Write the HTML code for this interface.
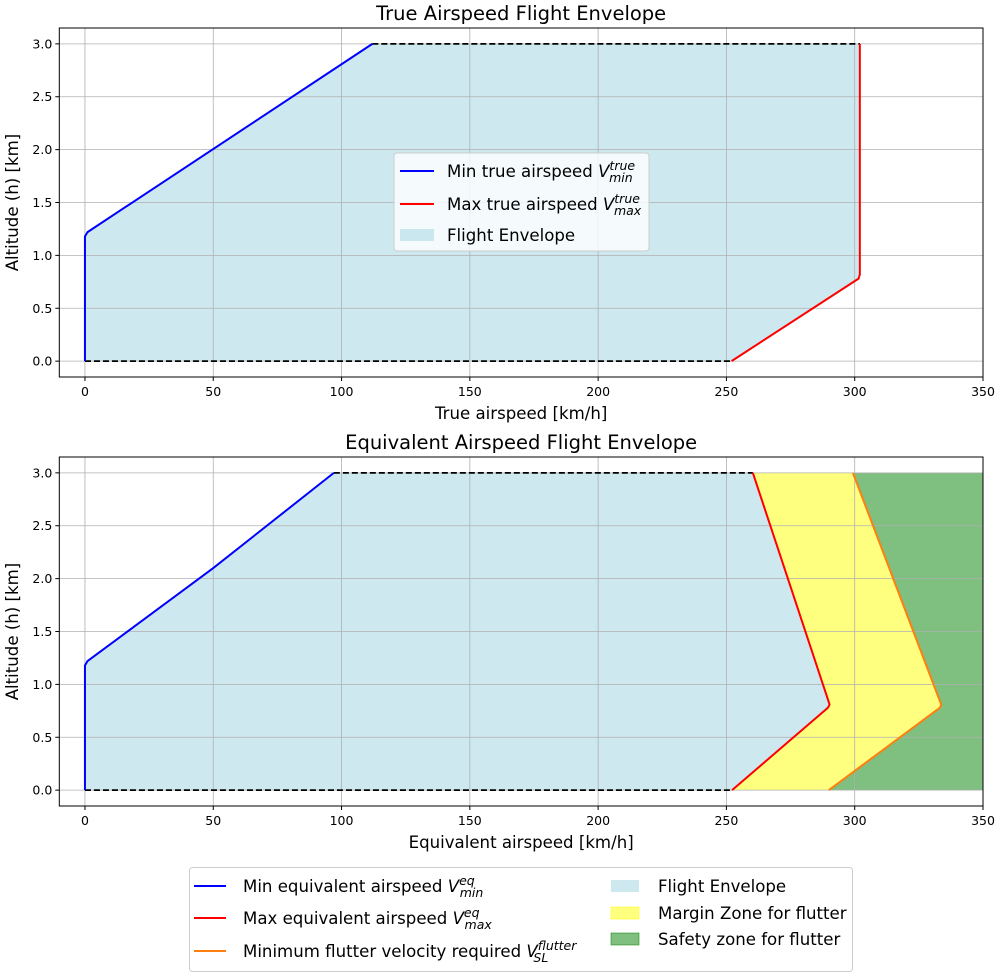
<!DOCTYPE html>
<html><head><meta charset="utf-8"><style>
body{margin:0;background:#fff;overflow:hidden;width:1000px;height:976px;position:relative}
svg text{font-family:"DejaVu Sans","Liberation Sans",sans-serif;fill:#000}
</style></head><body>
<svg id="chart" width="1000" height="976" viewBox="0 0 1000 976" xmlns="http://www.w3.org/2000/svg" style="position:absolute;left:0;top:0"></svg>
<script>
// data
const xTicks=[0,50,100,150,200,250,300,350];
const yTicks=[0,0.5,1.0,1.5,2.0,2.5,3.0];
const trueMinV=[0,0,1,112];
const trueMinH=[0,1.18,1.22,3.0];
const trueMaxV=[252,301.5,302,302];
const trueMaxH=[0,0.78,0.82,3.0];
const eqMinV=[0,0,1,50,97];
const eqMinH=[0,1.18,1.22,2.1,3.0];
const eqMaxV=[252.2,289.6,290.2,260.3];
const eqMaxH=[0,0.78,0.81,3.0];
const flutV=[289.9,333.2,333.7,299.3];
const flutH=[0,0.78,0.81,3.0];

const svg=document.getElementById('chart');
const NS='http://www.w3.org/2000/svg';
function el(tag,attrs,parent,name,inter){
  const e=document.createElementNS(NS,tag);
  for(const k in attrs)e.setAttribute(k,attrs[k]);
  
  
  (parent||svg).appendChild(e);return e;
}
function makeAxes(top,title,xlabel,prefix){
  const L=59.3,R=983,B=top+349;
  const sx=v=>L+(v+10)*(R-L)/360;
  const sy=h=>B-(h+0.15)*349/3.3;
  const g=el('g',{},svg,prefix+'-axes',false);
  return {g,sx,sy,L,R,top,B,title,xlabel,prefix};
}
function pts(a,vs,hs){return vs.map((v,i)=>a.sx(v).toFixed(2)+','+a.sy(hs[i]).toFixed(2));}
function grid(a){
  xTicks.forEach(t=>{el('line',{x1:a.sx(t),x2:a.sx(t),y1:a.top,y2:a.B,stroke:'#b0b0b0','stroke-width':0.8},a.g,'x-gridline',false);});
  yTicks.forEach(t=>{el('line',{x1:a.L,x2:a.R,y1:a.sy(t),y2:a.sy(t),stroke:'#b0b0b0','stroke-width':0.8},a.g,'y-gridline',false);});
}
function frame(a,ylabel){
  el('rect',{x:a.L,y:a.top,width:a.R-a.L,height:a.B-a.top,fill:'none',stroke:'#000','stroke-width':1},a.g,'plot-frame',false);
  xTicks.forEach(t=>{
    el('line',{x1:a.sx(t),x2:a.sx(t),y1:a.B,y2:a.B+4,stroke:'#000'},a.g,'x-tick',false);
    const tx=el('text',{x:a.sx(t),y:a.B+19,'font-size':12.5,'text-anchor':'middle'},a.g,'x-tick-label',false);tx.textContent=t;
  });
  yTicks.forEach(t=>{
    el('line',{x1:a.L-4,x2:a.L,y1:a.sy(t),y2:a.sy(t),stroke:'#000'},a.g,'y-tick',false);
    const tx=el('text',{x:a.L-7,y:a.sy(t)+4.5,'font-size':12.5,'text-anchor':'end'},a.g,'y-tick-label',false);tx.textContent=t.toFixed(1);
  });
  const tt=el('text',{x:(a.L+a.R)/2,y:a.top-8,'font-size':19.5,'text-anchor':'middle'},a.g,'chart-title',false);tt.textContent=a.title;
  const xl=el('text',{x:(a.L+a.R)/2,y:a.B+42,'font-size':16.6,'text-anchor':'middle'},a.g,'x-axis-title',false);xl.textContent=a.xlabel;
  const cy=(a.top+a.B)/2;
  const yl=el('text',{x:18,y:cy,'font-size':16.6,'text-anchor':'middle',transform:'rotate(-90 18 '+cy+')'},a.g,'y-axis-title',false);yl.textContent=ylabel;
}
function line(a,vs,hs,color,name){el('polyline',{points:pts(a,vs,hs).join(' '),fill:'none',stroke:color,'stroke-width':2,'stroke-linejoin':'round'},a.g,name,false);}
function dash(a,v1,v2,h){el('line',{x1:a.sx(v1),x2:a.sx(v2),y1:a.sy(h),y2:a.sy(h),stroke:'#000','stroke-width':1.7,'stroke-dasharray':'6,3'},a.g,'dashed-boundary',false);}

const A=makeAxes(28,'True Airspeed Flight Envelope','True airspeed [km/h]','true');
{
  const p=pts(A,trueMinV,trueMinH).concat(pts(A,trueMaxV.slice().reverse(),trueMaxH.slice().reverse()));
  el('polygon',{points:p.join(' '),fill:'#add8e6','fill-opacity':0.6},A.g,'flight-envelope-area',false);
  grid(A);
  dash(A,trueMinV[trueMinV.length-1],trueMaxV[trueMaxV.length-1],3.0);
  dash(A,0,trueMaxV[0],0);
  line(A,trueMinV,trueMinH,'#0000ff','min-true-airspeed-line');
  line(A,trueMaxV,trueMaxH,'#ff0000','max-true-airspeed-line');
  frame(A,'Altitude (h) [km]');
}
const Bx=makeAxes(457,'Equivalent Airspeed Flight Envelope','Equivalent airspeed [km/h]','eq');
{
  const p=pts(Bx,eqMinV,eqMinH).concat(pts(Bx,eqMaxV.slice().reverse(),eqMaxH.slice().reverse()));
  el('polygon',{points:p.join(' '),fill:'#add8e6','fill-opacity':0.6},Bx.g,'flight-envelope-area',false);
  const y=pts(Bx,eqMaxV,eqMaxH).concat(pts(Bx,flutV.slice().reverse(),flutH.slice().reverse()));
  el('polygon',{points:y.join(' '),fill:'#ffff00','fill-opacity':0.5},Bx.g,'margin-zone-area',false);
  const gr=pts(Bx,flutV,flutH).concat([Bx.sx(350)+','+Bx.sy(3),Bx.sx(350)+','+Bx.sy(0)]);
  el('polygon',{points:gr.join(' '),fill:'#008000','fill-opacity':0.5},Bx.g,'safety-zone-area',false);
  grid(Bx);
  dash(Bx,eqMinV[eqMinV.length-1],eqMaxV[eqMaxV.length-1],3.0);
  dash(Bx,0,eqMaxV[0],0);
  line(Bx,eqMinV,eqMinH,'#0000ff','min-eq-airspeed-line');
  line(Bx,eqMaxV,eqMaxH,'#ff0000','max-eq-airspeed-line');
  line(Bx,flutV,flutH,'#ff7f0e','flutter-velocity-line');
  frame(Bx,'Altitude (h) [km]');
}
</script>
<svg style="position:absolute;left:0;top:0" width="1000" height="976">
<g font-family="DejaVu Sans, sans-serif" font-size="16.6">
<rect x="394" y="153" width="255" height="98" rx="3" fill="#fff" fill-opacity="0.8" stroke="#ccc"/>
<line x1="400" x2="434" y1="171" y2="171" stroke="#00f" stroke-width="2"/>
<text x="447" y="177">Min true airspeed <tspan font-style="italic">V</tspan><tspan font-style="italic" font-size="12.5" dy="-7">true</tspan><tspan font-style="italic" font-size="12.5" dx="-26" dy="12">min</tspan></text>
<line x1="400" x2="434" y1="204" y2="204" stroke="#f00" stroke-width="2"/>
<text x="447" y="210">Max true airspeed <tspan font-style="italic">V</tspan><tspan font-style="italic" font-size="12.5" dy="-7">true</tspan><tspan font-style="italic" font-size="12.5" dx="-26" dy="12">max</tspan></text>
<rect x="400" y="229" width="34" height="12" fill="#add8e6" fill-opacity="0.6"/>
<text x="447" y="241">Flight Envelope</text>
</g>
<g font-family="DejaVu Sans, sans-serif" font-size="16.6">
<rect x="189.5" y="867.5" width="663" height="104" rx="3" fill="#fff" stroke="#ccc"/>
<line x1="194" x2="226" y1="886" y2="886" stroke="#00f" stroke-width="2"/>
<text x="243" y="892">Min equivalent airspeed <tspan font-style="italic">V</tspan><tspan font-style="italic" font-size="12.5" dy="-7">eq</tspan><tspan font-style="italic" font-size="12.5" dx="-15" dy="12">min</tspan></text>
<line x1="194" x2="226" y1="918" y2="918" stroke="#f00" stroke-width="2"/>
<text x="243" y="924">Max equivalent airspeed <tspan font-style="italic">V</tspan><tspan font-style="italic" font-size="12.5" dy="-7">eq</tspan><tspan font-style="italic" font-size="12.5" dx="-15" dy="12">max</tspan></text>
<line x1="194" x2="226" y1="951" y2="951" stroke="#ff7f0e" stroke-width="2"/>
<text x="243" y="957">Minimum flutter velocity required <tspan font-style="italic">V</tspan><tspan font-style="italic" font-size="12.5" dy="-7">flutter</tspan><tspan font-style="italic" font-size="12.5" dx="-43" dy="12">SL</tspan></text>
<rect x="611" y="880" width="28" height="12" fill="#add8e6" fill-opacity="0.6"/>
<text x="658" y="892">Flight Envelope</text>
<rect x="611" y="907" width="28" height="12" fill="#ffff00" fill-opacity="0.5" stroke="#ffff00" stroke-opacity="0.5"/>
<text x="658" y="919">Margin Zone for flutter</text>
<rect x="611" y="933" width="28" height="12" fill="#008000" fill-opacity="0.5" stroke="#008000" stroke-opacity="0.5"/>
<text x="658" y="945">Safety zone for flutter</text>
</g>
</svg>
</body></html>
